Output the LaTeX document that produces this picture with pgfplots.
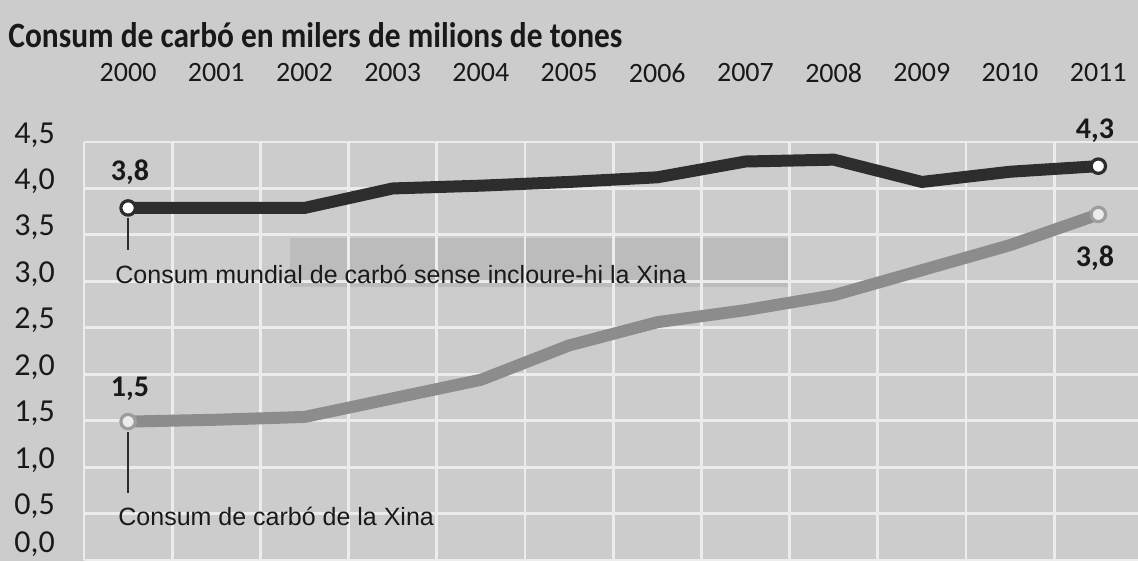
\documentclass[border=0pt]{standalone}
\usepackage{pgfplots}
\pgfplotsset{compat=1.18}
\usepackage{fontspec}
\setmainfont{Carlito}
\newfontfamily\arial{Liberation Sans}

\definecolor{paper}{RGB}{204,204,204}
\definecolor{band}{RGB}{188,188,188}
\definecolor{gridc}{RGB}{236,236,236}
\definecolor{darkline}{RGB}{45,45,45}
\definecolor{greyline}{RGB}{140,140,140}
\definecolor{ink}{RGB}{25,25,25}

% coal use, thousands of millions of tonnes
\pgfplotstableread{
year world china
2000 3.79 1.49
2001 3.79 1.51
2002 3.79 1.54
2003 4.00 1.74
2004 4.03 1.94
2005 4.07 2.31
2006 4.12 2.56
2007 4.29 2.69
2008 4.31 2.85
2009 4.07 3.12
2010 4.18 3.39
2011 4.24 3.72
}\coal

\begin{document}
\begin{tikzpicture}
% paper background, also fixes the page size
\path[use as bounding box, fill=paper] (-42pt,-0.5pt) rectangle (527pt,280pt);
\fill[band] (103pt,136.5pt) rectangle (352pt,161pt);

\begin{axis}[
  at={(0,0)}, anchor=south west,
  scale only axis,
  width=527pt, height=209pt,
  xmin=1999.5, xmax=2011.45,
  ymin=0, ymax=4.5,
  clip=false,
  axis line style={draw=none},
  major tick length=0pt, minor tick length=0pt,
  xtick={2000,...,2011},
  minor xtick={1999.5,2000.5,...,2011.5},
  xminorgrids,
  ytick={0,0.5,...,4.5},
  ymajorgrids,
  grid style={gridc, line width=1.4pt},
  minor grid style={gridc, line width=1.4pt},
  xticklabel pos=upper,
  xticklabel={\pgfmathprintnumber[1000 sep={}]{\tick}},
  xticklabel style={anchor=center, yshift=34.5pt, inner sep=0pt, text=ink,
    font=\fontsize{14}{14}\selectfont},
  % the bottom label is lifted a little so its comma stays on the page
  yticklabel={\pgfmathparse{\tick<0.1}%
    \ifdim\pgfmathresult pt>0.5pt\raisebox{4pt}{\pgfmathprintnumber{\tick}}%
    \else\pgfmathprintnumber{\tick}\fi},
  yticklabel style={anchor=base west, xshift=-35pt, yshift=-0.5pt, inner sep=0pt, text=ink,
    font=\fontsize{16}{16}\selectfont,
    /pgf/number format/.cd, fixed, fixed zerofill, precision=1, use comma},
  /pgf/number format/assume math mode=true,
]
\addplot[greyline, line width=6pt, line join=round,
  mark=*, mark indices={1,12}, mark size=3.6pt,
  mark options={fill=gridc, draw=greyline!85, line width=1.6pt}]
  table[x=year, y=china] {\coal};
\addplot[darkline, line width=6pt, line join=round,
  mark=*, mark indices={1,12}, mark size=3.6pt,
  mark options={fill=white, draw=darkline, line width=1.6pt}]
  table[x=year, y=world] {\coal};
\end{axis}

% leader lines
\draw[darkline, line width=0.8pt] (22pt,171pt) -- (22pt,155pt);
\draw[darkline, line width=0.8pt] (22pt,64pt) -- (22pt,33.5pt);

% annotations
\node[anchor=base west, inner sep=0pt, text=ink, font=\arial\fontsize{12.5}{13}\selectfont]
  at (15.5pt,138pt) {Consum mundial de carbó sense incloure-hi la Xina};
\node[anchor=base west, inner sep=0pt, text=ink, font=\arial\fontsize{12.5}{13}\selectfont]
  at (17pt,17pt) {Consum de carbó de la Xina};

\begin{scope}[every node/.style={inner sep=0pt, text=ink, font=\bfseries\fontsize{15}{15}\selectfont}]
\node at (23pt,194pt) {3,8};
\node at (23pt,85.5pt) {1,5};
\node at (505.5pt,214.5pt) {4,3};
\node at (505.5pt,151pt) {3,8};
\end{scope}

% title
\node[anchor=west, inner sep=0pt, text=ink] at (-38pt,262.5pt)
  {\resizebox{307pt}{12.5pt}{\bfseries Consum de carbó en milers de milions de tones}};
\end{tikzpicture}
\end{document}
